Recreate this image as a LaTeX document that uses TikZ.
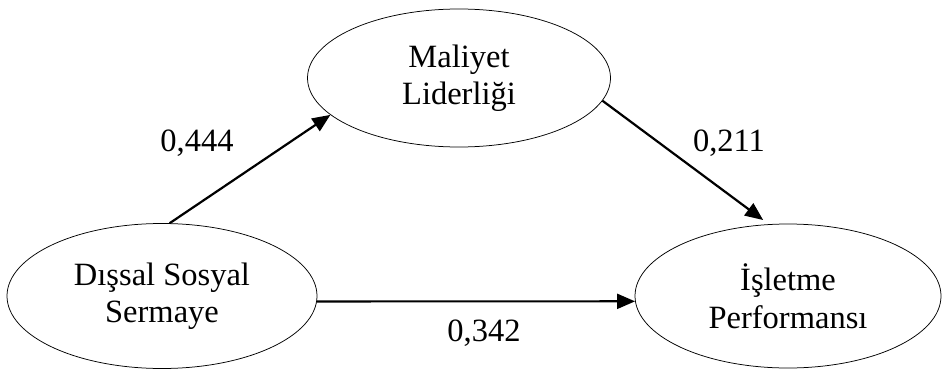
\documentclass[tikz,border=0pt]{standalone}
\usepackage{fontspec}
\setmainfont{Liberation Serif}
\usetikzlibrary{shapes.geometric,arrows.meta}

\begin{document}
\begin{tikzpicture}[x=1pt,y=-1pt,
  construct/.style={draw, ellipse, line width=0.75pt, inner sep=0pt,
    align=center, font=\fontsize{32.5}{37.5}\selectfont},
  path arrow/.style={line width=2.2pt,
    -{Triangle[length=18pt,width=15pt]}},
  coef/.style={font=\fontsize{32.5}{37.5}\selectfont, inner sep=0pt}]

\useasboundingbox (0,0) rectangle (942,369);

\node[construct, minimum width=303pt, minimum height=138pt] (mal) at (459,78)
  {Maliyet\\Liderliği};
\node[construct, minimum width=310pt, minimum height=145pt] (dis) at (162,296)
  {Dışsal Sosyal\\Sermaye};
\node[construct, minimum width=306pt, minimum height=144pt] (isl) at (788,296)
  {İşletme\\Performansı};

\draw[path arrow] (dis.84) -- (mal.196);
\draw[path arrow, shorten >=7pt] (mal.-9) -- (isl.105);
\draw[path arrow] (dis.-2) -- (isl.182);

\node[coef] (c1) at (197,143) {0,444};
\node[coef] (c2) at (729,143) {0,211};
\node[coef] (c3) at (484,333) {0,342};
\end{tikzpicture}
\end{document}
